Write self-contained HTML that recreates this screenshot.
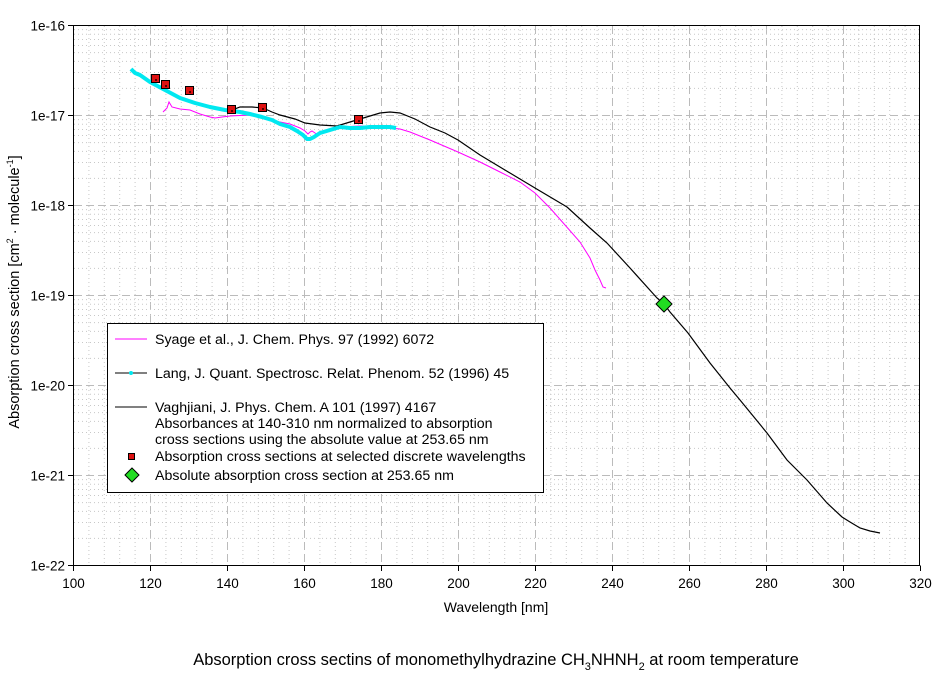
<!DOCTYPE html>
<html><head><meta charset="utf-8"><style>
body{margin:0;background:#fff;}
svg{display:block;font-family:"Liberation Sans",sans-serif;}
</style></head><body>
<svg id="s" width="944" height="676" viewBox="0 0 944 676">
<rect width="944" height="676" fill="#fff"/>
<g id="grid"></g>
<polyline fill="none" stroke="#ff00ff" stroke-width="1" points="163,112 167,108 169,102 172,107 180,109 190,110 200,114 210,117 215,118 222,117 230,116 250,115 262,117 270,120 280,122 290,124 300,128 305,131 308,134 310,132 312,131 315,133 318,135 325,132 340,127 360,126 380,127 400,129 410,132 430,140 458,152 480,162 500,172 520,182 535,193 550,208 565,225 580,242 590,258 595,270 600,280 603,287 606,288"/>
<polyline fill="none" stroke="#000" stroke-width="1.2" points="143,78 150,82 165,90 180,98 195,103 210,107 225,110 232,110 240,107 252,107 263,108 272,112 280,115 295,119 305,123 320,125 337,126 350,122 360,119 370,116 380,113 390,112 400,113 415,119 430,127 445,133 458,140 480,155 510,173 535,188 567,207 590,228 607,243 630,268 657,298 664,304 670,312 688,333 710,363 730,388 740,400 767,433 787,460 807,480 827,503 842,517 850,522 860,528 870,531 880,533"/>
<polyline fill="none" stroke="#00e8f0" stroke-width="4" stroke-linejoin="round" points="131,69 135,73 140,75 150,82 165,90 180,98 195,103 210,107 225,110 240,112 250,114 262,117 272,120 280,124 290,127 297,131 303,135 307,139 310,139 314,137 320,133 330,130 340,127 350,128 360,128 370,127 380,127 390,127 396,128"/>
<g id="sq"></g>
<polygon points="664,296 672,304 664,312 656,304" fill="#22dd22" stroke="#000" stroke-width="1"/>
<rect x="73.5" y="25.5" width="846" height="540" fill="none" stroke="#000" stroke-width="1"/>
<g id="ticks" font-size="13.5" fill="#000"></g>
<text x="496" y="612" font-size="14" text-anchor="middle">Wavelength [nm]</text>
<text transform="translate(19,292) rotate(-90)" font-size="14.5" text-anchor="middle">Absorption cross section [cm<tspan font-size="9" dy="-6">2</tspan><tspan dy="6"> · molecule</tspan><tspan font-size="9" dy="-6">-1</tspan><tspan dy="6">]</tspan></text>
<text x="496" y="665" font-size="16.5" text-anchor="middle">Absorption cross sectins of monomethylhydrazine CH<tspan font-size="11" dy="5">3</tspan><tspan dy="-5">NHNH</tspan><tspan font-size="11" dy="5">2</tspan><tspan dy="-5"> at room temperature</tspan></text>
<rect x="107.5" y="323.5" width="436" height="169" fill="#fff" stroke="#000" stroke-width="1"/>
<g font-size="14.2" fill="#000">
<line x1="115" y1="339" x2="147" y2="339" stroke="#ff00ff"/>
<text x="155" y="344">Syage et al., J. Chem. Phys. 97 (1992) 6072</text>
<line x1="115" y1="373" x2="147" y2="373" stroke="#000"/>
<circle cx="131" cy="373" r="2" fill="#00e8f0"/>
<text x="155" y="378">Lang, J. Quant. Spectrosc. Relat. Phenom. 52 (1996) 45</text>
<line x1="115" y1="407" x2="147" y2="407" stroke="#000"/>
<text x="155" y="412">Vaghjiani, J. Phys. Chem. A 101 (1997) 4167</text>
<text x="155" y="428">Absorbances at 140-310 nm normalized to absorption</text>
<text x="155" y="444">cross sections using the absolute value at 253.65 nm</text>
<rect x="128.5" y="453.5" width="6" height="6" fill="#dd1111" stroke="#000"/>
<text x="155" y="461">Absorption cross sections at selected discrete  wavelengths</text>
<polygon points="132,468 139,475 132,482 125,475" fill="#22dd22" stroke="#000"/>
<text x="155" y="480">Absolute absorption cross section at 253.65 nm</text>
</g>
</svg>
<script>
var NS="http://www.w3.org/2000/svg";
function el(p,t,a,txt){var e=document.createElementNS(NS,t);for(var k in a)e.setAttribute(k,a[k]);if(txt)e.textContent=txt;p.appendChild(e);return e;}
var g=document.getElementById("grid"),tk=document.getElementById("ticks"),sq=document.getElementById("sq");
function X(nm){return 73.5+(nm-100)*847/220;}
function Y(lv){return 25.5+90*(-16-lv);}
for(var nm=104;nm<320;nm+=4){var x=X(nm);if((nm-100)%20==0)continue;el(g,"line",{x1:x,x2:x,y1:26,y2:565,stroke:"#c8c8c8","stroke-dasharray":"1,3"});}
for(var nm=120;nm<320;nm+=20){var x=X(nm);el(g,"line",{x1:x,x2:x,y1:26,y2:565,stroke:"#bbb","stroke-dasharray":"8,4"});}
for(var e=-22;e<-16;e++){for(var m=2;m<10;m++){var y=Y(e+Math.log10(m));el(g,"line",{x1:74,x2:919,y1:y,y2:y,stroke:"#c8c8c8","stroke-dasharray":"1,3"});}
if(e>-22){var y=Y(e);el(g,"line",{x1:74,x2:919,y1:y,y2:y,stroke:"#bbb","stroke-dasharray":"8,4"});}}
for(var e=-16;e>=-22;e--){var y=Y(e);el(tk,"line",{x1:68,x2:73.5,y1:y,y2:y,stroke:"#000"});el(tk,"text",{x:65,y:y+5,"text-anchor":"end"},"1e"+e);}
for(var nm=100;nm<=320;nm+=20){var x=X(nm);el(tk,"line",{x1:x,x2:x,y1:565.5,y2:571,stroke:"#000"});el(tk,"text",{x:x,y:588,"text-anchor":"middle"},""+nm);}
[[156,79],[166,85],[190,91],[232,110],[263,108],[359,120]].forEach(function(p){el(sq,"rect",{x:p[0]-4.5,y:p[1]-4.5,width:8,height:8,fill:"#dd1111",stroke:"#000"});el(sq,"rect",{x:p[0]-1,y:p[1],width:2,height:2,fill:"#500"});});
</script>
</body></html>
